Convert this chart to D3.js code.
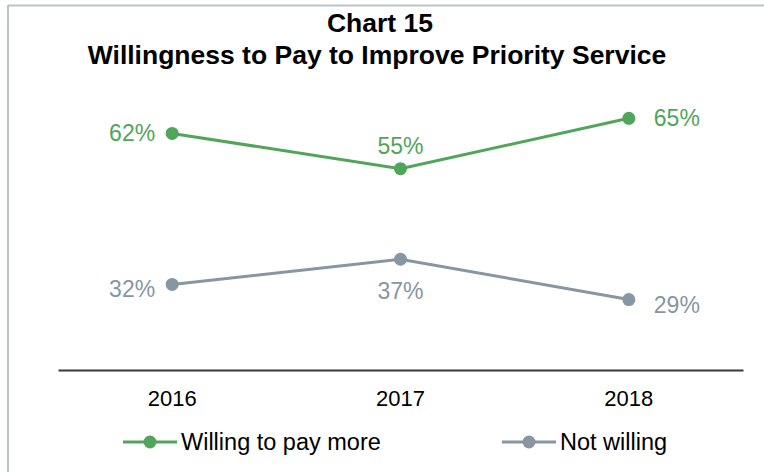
<!DOCTYPE html>
<html>
<head>
<meta charset="utf-8">
<script src="https://cdn.jsdelivr.net/npm/d3@7/dist/d3.min.js"></script>
<style>
  html, body { margin: 0; padding: 0; background: #fff; }
  svg { display: block; font-family: "Liberation Sans", Arial, sans-serif; }
</style>
</head>
<body>
<svg id="chart" width="764" height="472"></svg>
<script>
// Survey years and shares (%)
const years = ["2016", "2017", "2018"];
const willingValues = [62, 55, 65];
const notWillingValues = [32, 37, 29];
const seriesNames = ["Willing to pay more", "Not willing"];
const titleLines = ["Chart 15", "Willingness to Pay to Improve Priority Service"];

const colors = { willing: "#51a55a", notWilling: "#8696a3" };

const svg = d3.select("#chart");

// frame lines (top and left edge)
svg.append("line").attr("x1", 8).attr("x2", 764).attr("y1", 5.5).attr("y2", 5.5)
  .attr("stroke", "#b9c4ca").attr("stroke-width", 2);
svg.append("line").attr("x1", 8).attr("x2", 8).attr("y1", 5).attr("y2", 472)
  .attr("stroke", "#b9c4ca").attr("stroke-width", 2);

// title
svg.append("text").attr("x", 380).attr("y", 32).attr("text-anchor", "middle")
  .attr("font-size", 26.5).attr("font-weight", "bold").attr("fill", "#000")
  .text(titleLines[0]);
svg.append("text").attr("x", 377).attr("y", 64).attr("text-anchor", "middle")
  .attr("font-size", 26.5).attr("font-weight", "bold").attr("fill", "#000")
  .text(titleLines[1]);

const x = d3.scaleBand().domain(years).range([58, 743]).padding(0);
const y = d3.scaleLinear().domain([15, 75]).range([370, 68]);
const cx = d => x(d) + x.bandwidth() / 2;

// category axis
const axis = svg.append("g").attr("transform", "translate(0,370)")
  .call(d3.axisBottom(x).tickSize(0).tickPadding(20));
axis.select(".domain").attr("stroke", "#3a3a3a").attr("stroke-width", 2);
axis.selectAll("text").attr("font-size", 22).attr("fill", "#000")
  .attr("font-family", "'Liberation Sans', Arial, sans-serif");

const series = [
  { name: seriesNames[0], values: willingValues, color: colors.willing,
    place: ["left", "above", "right"] },
  { name: seriesNames[1], values: notWillingValues, color: colors.notWilling,
    place: ["left", "below", "right"] }
];

const line = d3.line().x((d, i) => cx(years[i])).y(d => y(d));

series.forEach(s => {
  svg.append("path").datum(s.values)
    .attr("d", line).attr("fill", "none")
    .attr("stroke", s.color).attr("stroke-width", 3);
  svg.selectAll(null).data(s.values).enter().append("circle")
    .attr("cx", (d, i) => cx(years[i])).attr("cy", d => y(d))
    .attr("r", 6.5).attr("fill", s.color);
  const down = s === series[1] ? 5 : 0;
  svg.selectAll(null).data(s.values).enter().append("text")
    .attr("font-size", 23).attr("fill", s.color)
    .attr("text-anchor", (d, i) => s.place[i] === "left" ? "end" : s.place[i] === "right" ? "start" : "middle")
    .attr("x", (d, i) => {
      const p = s.place[i];
      return cx(years[i]) + (p === "left" ? -17 : p === "right" ? 25 : 0);
    })
    .attr("y", (d, i) => {
      const p = s.place[i];
      if (p === "above") return y(d) - 15;
      if (p === "below") return y(d) + 40;
      return y(d) + 8 + down;
    })
    .text(d => d + "%");
});

// legend
const legendItems = [
  { name: seriesNames[0], color: colors.willing, x0: 123 },
  { name: seriesNames[1], color: colors.notWilling, x0: 502 }
];
const lg = svg.append("g");
legendItems.forEach(it => {
  lg.append("line").attr("x1", it.x0).attr("x2", it.x0 + 54)
    .attr("y1", 442).attr("y2", 442).attr("stroke", it.color).attr("stroke-width", 3);
  lg.append("circle").attr("cx", it.x0 + 27).attr("cy", 442).attr("r", 6.5).attr("fill", it.color);
  lg.append("text").attr("x", it.x0 + 58).attr("y", 450)
    .attr("font-size", 23.5).attr("fill", "#000").text(it.name);
});
</script>
</body>
</html>
